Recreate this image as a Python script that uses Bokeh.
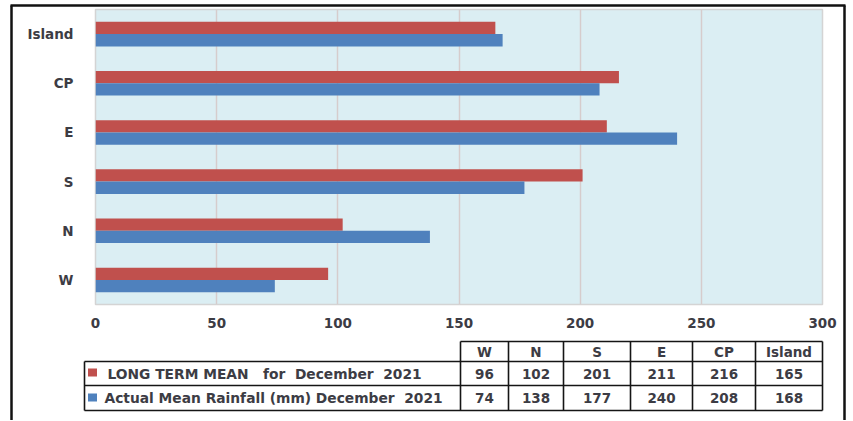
from bokeh.plotting import figure
from bokeh.models import Range1d, FactorRange, FixedTicker, ColumnDataSource
from bokeh.transform import dodge
from bokeh.core.properties import value
from bokeh.embed import file_html
from bokeh.resources import INLINE

# ---------------- data ----------------
regions = ["W", "N", "S", "E", "CP", "Island"]
long_term_mean = [96, 102, 201, 211, 216, 165]
actual_mean = [74, 138, 177, 240, 208, 168]
series_labels = ["LONG TERM MEAN\u00a0\u00a0 for\u00a0 December\u00a0 2021",
                 "Actual Mean Rainfall (mm) December\u00a0 2021"]
x_ticks = [0, 50, 100, 150, 200, 250, 300]

RED = "#C0504D"
BLUE = "#4F81BD"
FONT = "DejaVu Sans"
TXT = "#3C3C44"
BORDER = "#111111"

W = 853
H = 420
HA = 335

# page geometry of the chart frame
FL, FR, FT, FB = 95, 822, 9, 304

# ---------------- background figure: outer frame + data table ----------------
q = figure(width=W, height=H, x_range=Range1d(0, W), y_range=Range1d(H, 0),
           output_backend="svg", toolbar_location=None,
           x_axis_location=None, y_axis_location=None, min_border=0)
q.outline_line_color = None
q.xgrid.visible = False
q.ygrid.visible = False

# outer frame (left, top, right)
q.segment(x0=[11, 10, 844], y0=[5, 5, 5], x1=[11, 845, 844], y1=[H + 5, 5, H + 5],
          line_color=BORDER, line_width=2.5)

col_edges = [460, 508, 563, 630, 692, 755, 822]
row_edges = [341, 361, 385, 410]
left_edge = 84

hx0, hy0, hx1, hy1 = [col_edges[0]], [row_edges[0]], [col_edges[-1]], [row_edges[0]]
for ry in row_edges[1:]:
    hx0.append(left_edge); hx1.append(col_edges[-1]); hy0.append(ry); hy1.append(ry)
vx = [left_edge] + col_edges
vy0 = [row_edges[1]] + [row_edges[0]] * len(col_edges)
vy1 = [row_edges[-1]] * len(vx)
q.segment(x0=hx0 + vx, y0=hy0 + vy0, x1=hx1 + vx, y1=hy1 + vy1,
          line_color="#151515", line_width=1.6)

centers = [(a + b) / 2 for a, b in zip(col_edges[:-1], col_edges[1:])]
row_centers = [(a + b) / 2 for a, b in zip(row_edges[:-1], row_edges[1:])]

tstyle = dict(text_font=value(FONT), text_font_style="bold", text_font_size="13.5px",
              text_color=TXT, text_baseline="middle")
q.text(x=centers, y=[row_centers[0]] * len(regions), text=regions, text_align="center", **tstyle)
q.text(x=centers, y=[row_centers[1]] * len(regions), text=[str(v) for v in long_term_mean],
       text_align="center", **tstyle)
q.text(x=centers, y=[row_centers[2]] * len(regions), text=[str(v) for v in actual_mean],
       text_align="center", **tstyle)
lstyle = dict(tstyle, text_font_size="13.8px")
q.text(x=[107, 104], y=row_centers[1:], text=series_labels, text_align="left", **lstyle)
q.rect(x=[92, 92], y=[372, 397], width=9, height=8, fill_color=[RED, BLUE], line_color=None)

# ---------------- chart figure (transparent border, laid over the background) ----------------
src = ColumnDataSource(dict(region=regions, ltm=long_term_mean, act=actual_mean))

p = figure(width=W, height=HA, x_range=Range1d(0, 300),
           y_range=FactorRange(*regions, range_padding=0),
           output_backend="svg", toolbar_location=None,
           min_border_left=FL, min_border_right=W - FR, min_border_top=FT,
           min_border_bottom=HA - FB,
           styles={"position": "absolute", "left": "0px", "top": "0px"})

p.hbar(y=dodge("region", 0.125, range=p.y_range), right="ltm", left=0, height=0.25,
       source=src, fill_color=RED, line_color=None)
p.hbar(y=dodge("region", -0.125, range=p.y_range), right="act", left=0, height=0.25,
       source=src, fill_color=BLUE, line_color=None)

p.background_fill_color = "#DBEEF3"
p.border_fill_color = None
p.outline_line_color = "#D4D4D4"
p.outline_line_width = 1.5
p.xgrid.grid_line_color = "#D6CCCC"
p.xgrid.grid_line_width = 1.5
p.ygrid.grid_line_color = None

p.xaxis.ticker = FixedTicker(ticks=x_ticks)
p.xgrid.ticker = FixedTicker(ticks=x_ticks)
for ax in (p.xaxis, p.yaxis):
    ax.axis_line_color = None
    ax.major_tick_line_color = None
    ax.minor_tick_line_color = None
    ax.major_tick_out = 0
    ax.minor_tick_out = 0
    ax.major_label_text_font = FONT
    ax.major_label_text_font_style = "bold"
    ax.major_label_text_font_size = "13.5px"
    ax.major_label_text_color = TXT
p.xaxis.major_label_standoff = 13
p.yaxis.major_label_standoff = 22

open("out.html", "w").write(file_html([q, p], INLINE))
